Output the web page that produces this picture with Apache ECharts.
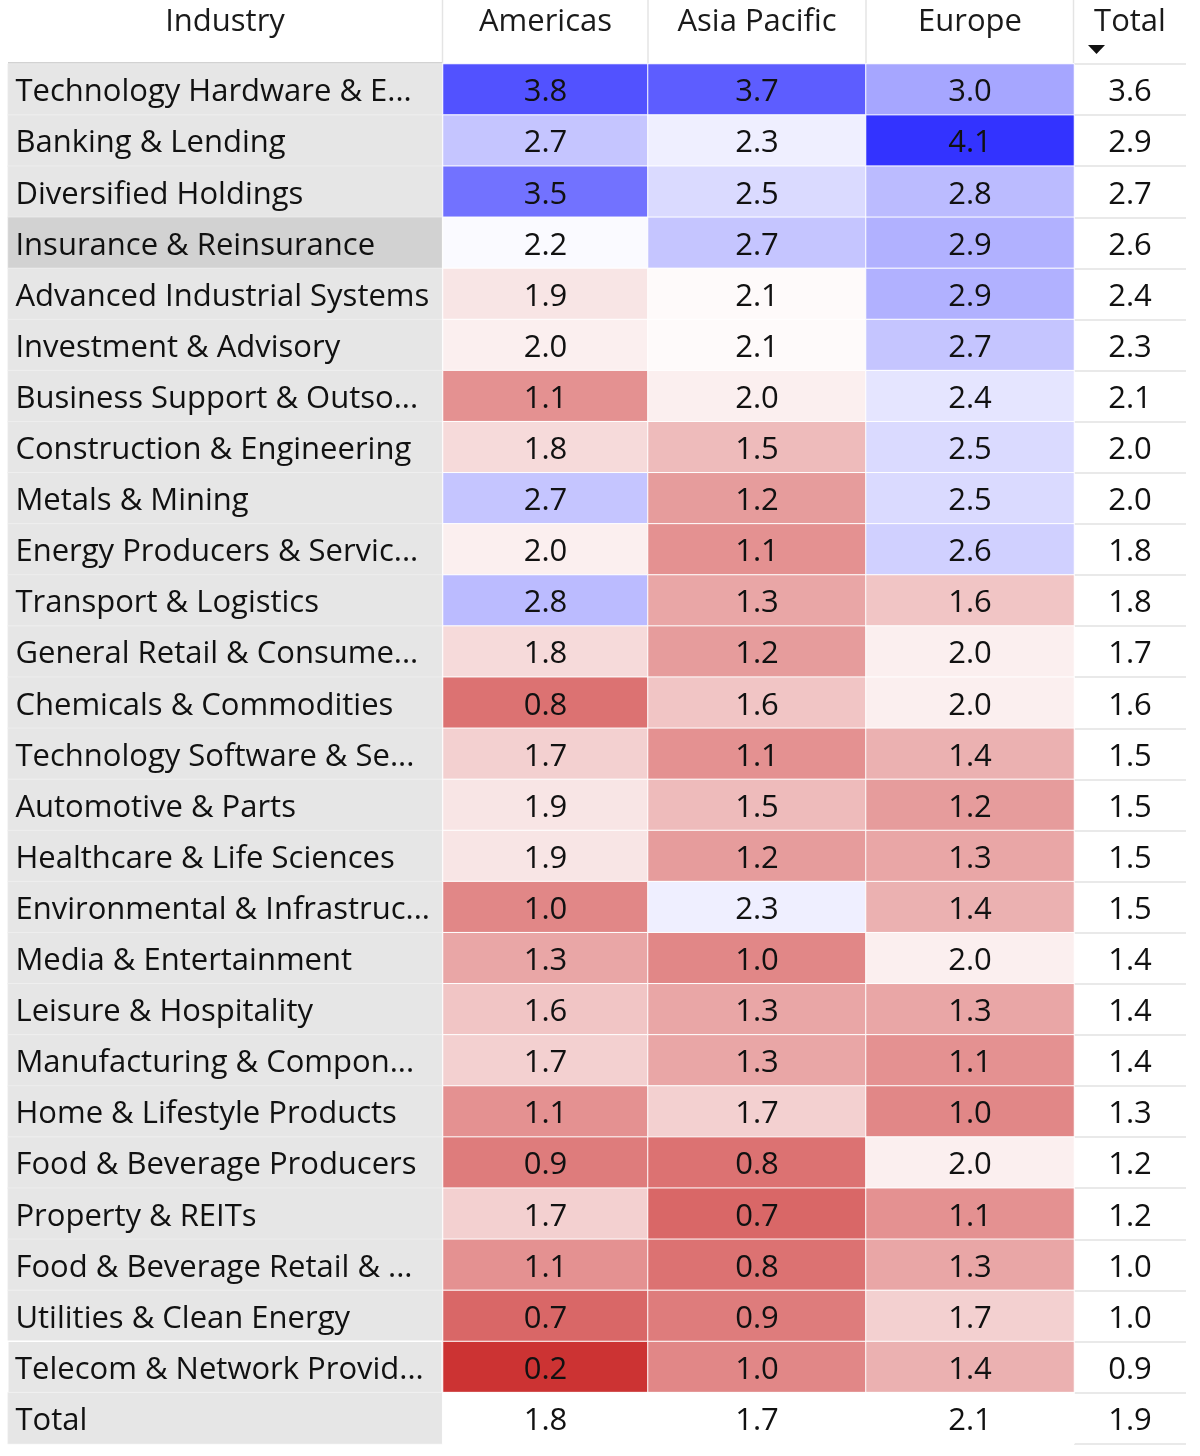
<!DOCTYPE html>
<html>
<head>
<meta charset="utf-8">
<script src="https://cdn.jsdelivr.net/npm/echarts@6/dist/echarts.min.js"></script>
<style>
  html, body { margin: 0; padding: 0; background: #fff; }
  #chart { width: 1200px; height: 1456px; }
</style>
</head>
<body>
<div id="chart"></div>
<script>
// industries, sorted by Total (descending)
var industries = [
  'Technology Hardware & E...', 'Banking & Lending', 'Diversified Holdings',
  'Insurance & Reinsurance', 'Advanced Industrial Systems', 'Investment & Advisory',
  'Business Support & Outso...', 'Construction & Engineering', 'Metals & Mining',
  'Energy Producers & Servic...', 'Transport & Logistics', 'General Retail & Consume...',
  'Chemicals & Commodities', 'Technology Software & Se...', 'Automotive & Parts',
  'Healthcare & Life Sciences', 'Environmental & Infrastruc...', 'Media & Entertainment',
  'Leisure & Hospitality', 'Manufacturing & Compon...', 'Home & Lifestyle Products',
  'Food & Beverage Producers', 'Property & REITs', 'Food & Beverage Retail & ...',
  'Utilities & Clean Energy', 'Telecom & Network Provid...'
];
var americas    = [3.8, 2.7, 3.5, 2.2, 1.9, 2.0, 1.1, 1.8, 2.7, 2.0, 2.8, 1.8, 0.8, 1.7, 1.9, 1.9, 1.0, 1.3, 1.6, 1.7, 1.1, 0.9, 1.7, 1.1, 0.7, 0.2];
var asiaPacific = [3.7, 2.3, 2.5, 2.7, 2.1, 2.1, 2.0, 1.5, 1.2, 1.1, 1.3, 1.2, 1.6, 1.1, 1.5, 1.2, 2.3, 1.0, 1.3, 1.3, 1.7, 0.8, 0.7, 0.8, 0.9, 1.0];
var europe      = [3.0, 4.1, 2.8, 2.9, 2.9, 2.7, 2.4, 2.5, 2.5, 2.6, 1.6, 2.0, 2.0, 1.4, 1.2, 1.3, 1.4, 2.0, 1.3, 1.1, 1.0, 2.0, 1.1, 1.3, 1.7, 1.4];
var rowTotals   = [3.6, 2.9, 2.7, 2.6, 2.4, 2.3, 2.1, 2.0, 2.0, 1.8, 1.8, 1.7, 1.6, 1.5, 1.5, 1.5, 1.5, 1.4, 1.4, 1.4, 1.3, 1.2, 1.2, 1.0, 1.0, 0.9];
// bottom "Total" row: Americas, Asia Pacific, Europe, Total
var columnTotals = [1.8, 1.7, 2.1, 1.9];
var headers = ['Industry', 'Americas', 'Asia Pacific', 'Europe', 'Total'];
var highlighted = 'Insurance & Reinsurance';

var rows = industries.concat(['Total']);
var FONT = '"Open Sans", sans-serif';
var FS = 31;
var TOP = 64;
var HEIGHT = 51.1 * rows.length;
// column boxes (px)
var cols = [
  { left: 8, width: 434 },
  { left: 443, width: 205 },
  { left: 648, width: 218 },
  { left: 866, width: 208 },
  { left: 1074, width: 112 }
];

var grids = [], xAxes = [], yAxes = [];
cols.forEach(function (c, i) {
  grids.push({ left: c.left, width: c.width, top: TOP, height: HEIGHT });
  xAxes.push({
    type: 'category', gridIndex: i, position: 'top', data: [headers[i]],
    axisLine: { show: false }, axisTick: { show: false },
    axisLabel: { fontSize: FS, fontFamily: FONT, color: '#1a1a1a', margin: 42, verticalAlign: 'middle' }
  });
  yAxes.push({
    type: 'category', gridIndex: i, data: rows, inverse: true,
    axisLine: { show: false }, axisTick: { show: false }, axisLabel: { show: false },
    splitLine: { show: i === 4, interval: 0, lineStyle: { color: '#e2e2e2', width: 1.5 } }
  });
});

var valueLabel = {
  show: true, fontSize: FS, fontFamily: FONT, color: '#111', offset: [0, 3],
  formatter: function (p) { return p.value[2].toFixed(1); }
};
var plainCell = { color: '#ffffff', borderColor: '#ffffff', borderWidth: 1 };

var series = [];
// industry names
series.push({
  type: 'heatmap', xAxisIndex: 0, yAxisIndex: 0,
  data: rows.map(function (r, i) {
    var d = { value: [0, i, 0], name: r };
    if (r === highlighted) d.itemStyle = { color: '#d2d2d2' };
    if (i === industries.length - 1) d.itemStyle = { borderColor: '#ffffff', borderWidth: 1.5 };
    return d;
  }),
  itemStyle: { color: '#e6e6e6', borderColor: '#f4f4f4', borderWidth: 0.6 },
  label: {
    show: true, position: 'insideLeft', distance: 8, offset: [0, 3],
    fontSize: FS, fontFamily: FONT, color: '#111',
    formatter: function (p) { return rows[p.value[1]]; }
  },
  emphasis: { disabled: true }
});
// coloured region columns
[americas, asiaPacific, europe].forEach(function (arr, k) {
  series.push({
    type: 'heatmap', xAxisIndex: k + 1, yAxisIndex: k + 1,
    data: arr.map(function (v, i) { return [0, i, v]; }),
    itemStyle: { borderColor: '#ffffff', borderWidth: 1 },
    label: valueLabel,
    emphasis: { disabled: true }
  });
});
// totals row under region columns
[0, 1, 2].forEach(function (k) {
  series.push({
    type: 'heatmap', xAxisIndex: k + 1, yAxisIndex: k + 1,
    data: [[0, industries.length, columnTotals[k]]],
    itemStyle: plainCell, label: valueLabel,
    emphasis: { disabled: true }
  });
});
// Total column
series.push({
  type: 'heatmap', xAxisIndex: 4, yAxisIndex: 4,
  data: rowTotals.map(function (v, i) { return [0, i, v]; })
    .concat([[0, industries.length, columnTotals[3]]]),
  itemStyle: { color: 'rgba(255,255,255,0)', borderWidth: 0 },
  label: valueLabel,
  emphasis: { disabled: true }
});

var sepColor = '#e4e4e4';
var option = {
  backgroundColor: '#ffffff',
  animation: false,
  grid: grids, xAxis: xAxes, yAxis: yAxes,
  visualMap: {
    type: 'continuous', show: false, dimension: 2, seriesIndex: [1, 2, 3],
    min: 0.2, max: 4.1,
    inRange: { color: ['#cc3333', '#ffffff', '#3333ff'] }
  },
  graphic: [
    { type: 'line', shape: { x1: 442.5, y1: 0, x2: 442.5, y2: 63 }, style: { stroke: sepColor, lineWidth: 1.5 } },
    { type: 'line', shape: { x1: 648, y1: 0, x2: 648, y2: 63 }, style: { stroke: sepColor, lineWidth: 1.5 } },
    { type: 'line', shape: { x1: 866, y1: 0, x2: 866, y2: 63 }, style: { stroke: sepColor, lineWidth: 1.5 } },
    { type: 'line', shape: { x1: 1073.5, y1: 0, x2: 1073.5, y2: 63 }, style: { stroke: sepColor, lineWidth: 1.5 } },
    { type: 'line', shape: { x1: 8, y1: 63, x2: 442, y2: 63 }, style: { stroke: '#d2d2d2', lineWidth: 2 } },
    { type: 'polygon', shape: { points: [[1088, 45], [1105, 45], [1096.5, 54]] }, style: { fill: '#111' } }
  ],
  series: series
};

var chart = echarts.init(document.getElementById('chart'), null, { renderer: 'canvas' });
chart.setOption(option);
</script>
</body>
</html>
